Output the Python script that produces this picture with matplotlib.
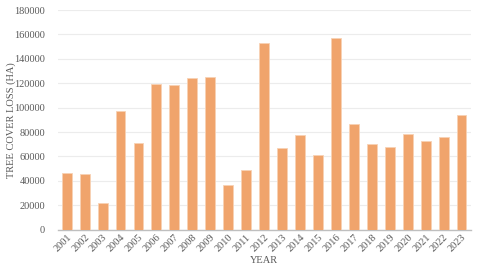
import matplotlib
matplotlib.use("Agg")
import numpy as np
from matplotlib import pyplot as plt

years = [str(y) for y in range(2001, 2024)]
loss_ha = [46700, 45300, 21600, 97200, 71000, 119300, 118500, 124300, 125300,
           36600, 48900, 152700, 66600, 77300, 60900, 157300, 86300, 69900,
           67700, 78400, 72600, 75700, 93700]
y_ticks = list(range(0, 180001, 20000))

plt.rcParams["font.family"] = ["Liberation Serif", "DejaVu Serif"]
text_color = "#595959"

fig = plt.figure(figsize=(4.8, 2.77), dpi=100)
ax = fig.add_axes([57.7 / 480, 1 - 229.6 / 277, (470.5 - 57.7) / 480, (229.6 - 10) / 277])

x = np.arange(len(years))
ax.bar(x, loss_ha, width=0.55, color="#f0a46c", edgecolor="#f8d2b4", linewidth=0.6, zorder=3)

ax.set_xlim(-0.5, len(years) - 0.5)
ax.set_ylim(0, 180000)
ax.set_yticks(y_ticks)
ax.set_yticklabels([str(v) for v in y_ticks])
ax.set_xticks(x)
ax.set_xticklabels(years, rotation=45, ha="right", rotation_mode="anchor")

ax.grid(axis="y", color="#ececec", linewidth=0.8, zorder=0)
for side in ["top", "right", "left"]:
    ax.spines[side].set_visible(False)
ax.spines["bottom"].set_color("#bfbfbf")
ax.spines["bottom"].set_linewidth(1.0)
ax.tick_params(axis="both", length=0, labelsize=7.5, colors=text_color)
ax.tick_params(axis="y", pad=9)
ax.tick_params(axis="x", pad=2)

ax.set_xlabel("YEAR", fontsize=7.5, color=text_color, labelpad=2)
ax.set_ylabel("TREE COVER LOSS (HA)", fontsize=7.5, color=text_color)
ax.yaxis.set_label_coords(-0.113, 0.5)
ax.yaxis.label.set_verticalalignment("center")

fig.savefig("out.png", dpi=100)
